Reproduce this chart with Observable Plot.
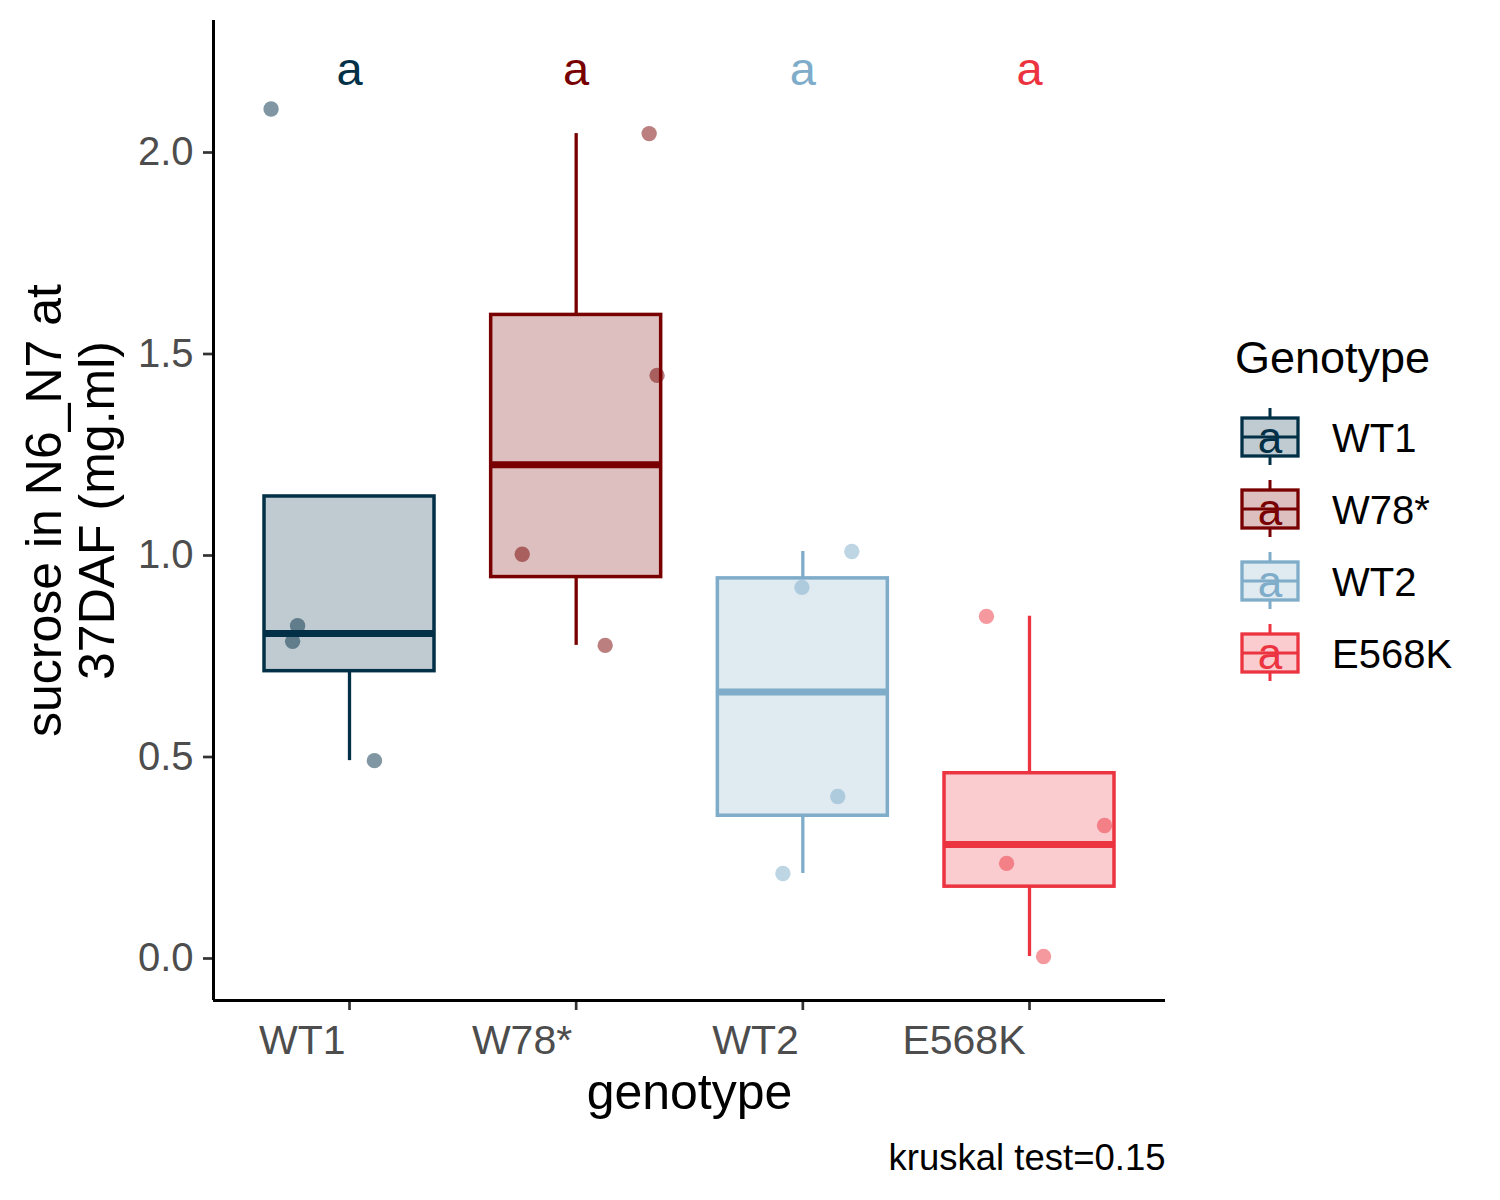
<!DOCTYPE html>
<html>
<head>
<meta charset="utf-8">
<script src="https://cdn.jsdelivr.net/npm/d3@7"></script>
<script src="https://cdn.jsdelivr.net/npm/@observablehq/plot@0.6"></script>
<style>
  html, body { margin: 0; padding: 0; background: #ffffff; }
  #chart { position: relative; width: 1500px; height: 1200px; }
</style>
</head>
<body>
<div id="chart"></div>
<script>
// ---------- data ----------
const genotypes = ["WT1", "W78*", "WT2", "E568K"];
const groupColors = ["#023047", "#780000", "#7EACC9", "#EC3340"];

const wt1Sucrose   = [2.103, 0.821, 0.782, 0.486];
const w78Sucrose   = [2.042, 1.442, 0.998, 0.772];
const wt2Sucrose   = [1.005, 0.916, 0.397, 0.206];
const e568kSucrose = [0.844, 0.325, 0.231, 0.000];

// horizontal jitter of each point (in category units)
const wt1Jitter   = [-0.346, -0.229, -0.251, 0.110];
const w78Jitter   = [0.322, 0.357, -0.238, 0.128];
const wt2Jitter   = [0.216, -0.004, 0.154, -0.088];
const e568kJitter = [-0.190, 0.331, -0.101, 0.062];

const letterLabels  = ["a", "a", "a", "a"];
const letterHeights = [2.2, 2.2, 2.2, 2.2];

const yTicks = [0, 0.5, 1.0, 1.5, 2.0];
const xTicks = [1, 2, 3, 4];
const xTitle = "genotype";
const yTitle = "sucrose in N6_N7 at\n37DAF (mg.ml)";
const legendTitle = "Genotype";
const caption = "kruskal test=0.15";

// ---------- derived tables ----------
const valueSets = [wt1Sucrose, w78Sucrose, wt2Sucrose, e568kSucrose];
const jitterSets = [wt1Jitter, w78Jitter, wt2Jitter, e568kJitter];

const points = genotypes.flatMap((g, i) =>
  valueSets[i].map((v, j) => ({genotype: g, pos: i + 1, value: v, jitter: jitterSets[i][j]}))
);

const boxes = genotypes.map((g, i) => {
  const s = d3.sort(valueSets[i]);
  const q1 = d3.quantile(s, 0.25);
  const median = d3.quantile(s, 0.5);
  const q3 = d3.quantile(s, 0.75);
  const iqr = q3 - q1;
  const inside = s.filter(v => v >= q1 - 1.5 * iqr && v <= q3 + 1.5 * iqr);
  const lo = Math.min(q1, d3.min(inside));
  const hi = Math.max(q3, d3.max(inside));
  return {genotype: g, pos: i + 1, q1, median, q3, lo, hi,
          letter: letterLabels[i], letterY: letterHeights[i]};
});

const font = "'Liberation Sans', Arial, Helvetica, sans-serif";
const halfWidth = 0.375;
const yDomain = [-0.1092, 2.3226];

const plot = Plot.plot({
  width: 1500,
  height: 1200,
  marginTop: 20,
  marginBottom: 200,
  marginLeft: 213,
  marginRight: 335,
  style: {fontFamily: font, background: "#ffffff", overflow: "visible"},
  x: {type: "linear", domain: [0.4, 4.6]},
  y: {domain: yDomain},
  color: {domain: genotypes, range: groupColors},
  marks: [
    // whiskers
    Plot.ruleX(boxes, {x: "pos", y1: "q3", y2: "hi", stroke: "genotype", strokeWidth: 3.3}),
    Plot.ruleX(boxes, {x: "pos", y1: "lo", y2: "q1", stroke: "genotype", strokeWidth: 3.3}),
    // boxes
    Plot.rect(boxes, {
      x1: d => d.pos - halfWidth, x2: d => d.pos + halfWidth,
      y1: "q1", y2: "q3",
      fill: "genotype", fillOpacity: 0.25,
      stroke: "genotype", strokeWidth: 3.5
    }),
    // medians
    Plot.ruleY(boxes, {
      y: "median", x1: d => d.pos - halfWidth, x2: d => d.pos + halfWidth,
      stroke: "genotype", strokeWidth: 7
    }),
    // jittered points
    Plot.dot(points, {
      x: d => d.pos + d.jitter, y: "value",
      fill: "genotype", fillOpacity: 0.5, r: 7.7, stroke: null
    }),
    // significance letters
    Plot.text(boxes, {
      x: "pos", y: "letterY", text: "letter", fill: "genotype",
      fontSize: 47, lineAnchor: "middle", textAnchor: "middle"
    }),
    // axes
    Plot.axisY({
      ticks: yTicks, tickFormat: d3.format(".1f"),
      tickSize: 10, tickPadding: 10, fontSize: 40,
      fill: "#4D4D4D", stroke: "#333333", strokeWidth: 2.7, dy: 2, label: null
    }),
    // x tick marks
    Plot.axisX({
      ticks: xTicks, tickFormat: () => "",
      tickSize: 10, stroke: "#333333", strokeWidth: 2.7, label: null
    }),
    // x tick labels (right-aligned to the tick)
    Plot.axisX({
      ticks: xTicks, tickFormat: i => genotypes[i - 1],
      tickSize: 0, tickPadding: 24.6, fontSize: 41, textAnchor: "end", dx: -4,
      fill: "#4D4D4D", label: null
    }),
    Plot.ruleX([0.4], {stroke: "#000000", strokeWidth: 3}),
    Plot.ruleY([yDomain[0]], {stroke: "#000000", strokeWidth: 3}),
    // titles
    Plot.text([xTitle], {
      frameAnchor: "bottom", textAnchor: "middle", lineAnchor: "middle",
      dy: 92, fontSize: 50, fill: "#000000"
    }),
    Plot.text([yTitle], {
      frameAnchor: "left", textAnchor: "middle", lineAnchor: "middle",
      rotate: -90, dx: -142.5, fontSize: 50, lineHeight: 1.06, fill: "#000000"
    }),
    Plot.text([caption], {
      frameAnchor: "bottom-right", textAnchor: "end", lineAnchor: "middle",
      dy: 157.5, fontSize: 36.5, fill: "#000000"
    })
  ]
});

// ---------- legend ----------
const svg = d3.select(plot);
const legend = svg.append("g").attr("font-family", font).attr("text-anchor", "start");
legend.append("text")
  .attr("x", 1235).attr("y", 373).attr("text-anchor", "start")
  .attr("font-size", 45).attr("fill", "#000000")
  .text(legendTitle);

const keyX = 1270, keyY0 = 437, keyStep = 72;
genotypes.forEach((g, i) => {
  const c = groupColors[i];
  const cy = keyY0 + i * keyStep;
  const k = legend.append("g");
  k.append("line").attr("x1", keyX).attr("x2", keyX).attr("y1", cy - 29).attr("y2", cy + 28)
    .attr("stroke", c).attr("stroke-width", 3);
  k.append("rect").attr("x", keyX - 28).attr("y", cy - 19).attr("width", 56).attr("height", 38)
    .attr("fill", "#ffffff");
  k.append("rect").attr("x", keyX - 28).attr("y", cy - 19).attr("width", 56).attr("height", 38)
    .attr("fill", c).attr("fill-opacity", 0.25).attr("stroke", c).attr("stroke-width", 3.3);
  k.append("line").attr("x1", keyX - 28).attr("x2", keyX + 28).attr("y1", cy).attr("y2", cy)
    .attr("stroke", c).attr("stroke-width", 3);
  k.append("text").attr("x", keyX).attr("y", cy + 16).attr("text-anchor", "middle")
    .attr("font-size", 44).attr("fill", c).text(letterLabels[i]);
  k.append("text").attr("x", 1332).attr("y", cy + 15).attr("text-anchor", "start")
    .attr("font-size", 40).attr("fill", "#000000").text(g);
});

document.getElementById("chart").appendChild(plot);
</script>
</body>
</html>
